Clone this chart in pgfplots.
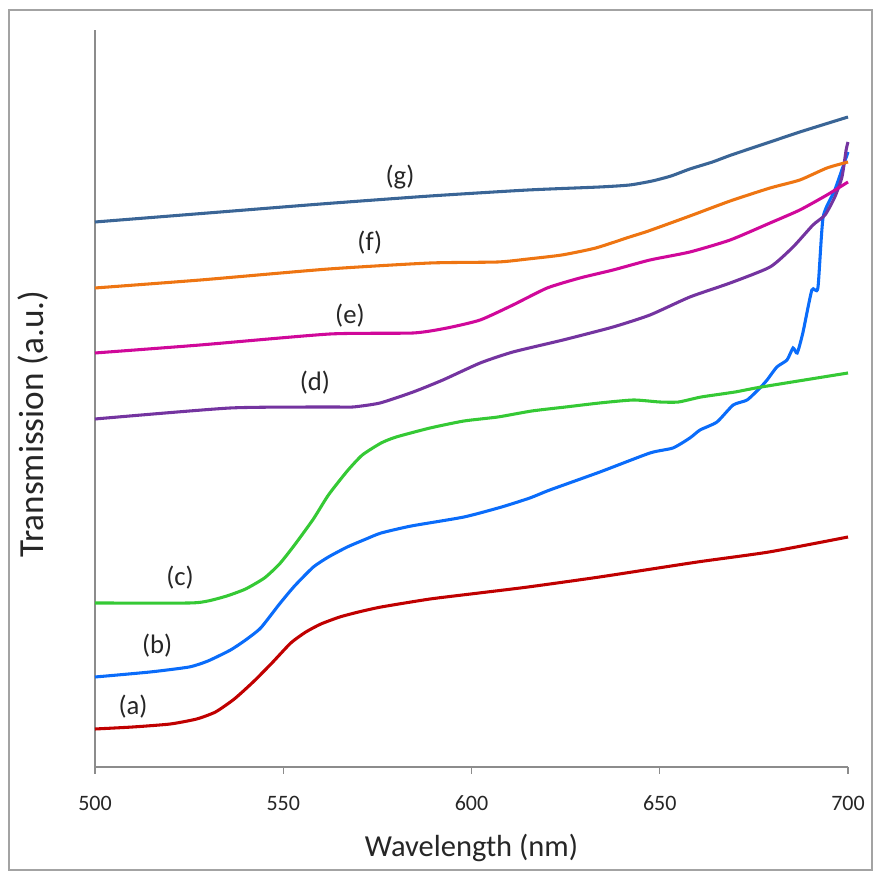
\documentclass[border=0pt]{standalone}
\usepackage{pgfplots}
\pgfplotsset{compat=1.18}
\usepackage{fontspec}
\setmainfont{Carlito}
\definecolor{cg}{HTML}{3A6596}
\definecolor{cf}{HTML}{EE7512}
\definecolor{ce}{HTML}{D0089A}
\definecolor{cd}{HTML}{7434A0}
\definecolor{cc}{HTML}{35C935}
\definecolor{cb}{HTML}{0A6CFA}
\definecolor{ca}{HTML}{C00000}
\definecolor{axgray}{HTML}{8C8C8C}
\begin{document}
\begin{tikzpicture}
\useasboundingbox (0pt,0pt) rectangle (660.75pt,657.75pt);
\draw[axgray!80,line width=1.2pt] (6.75pt,5.25pt) rectangle (654pt,650.25pt);
\begin{axis}[
  at={(71.25pt,82.5pt)}, anchor=south west,
  scale only axis, width=564.75pt, height=552.75pt,
  xmin=500, xmax=700, ymin=0, ymax=737,
  axis x line=bottom, axis y line=left,
  axis line style={-, axgray, line width=0.9pt},
  xtick={500,550,600,650,700}, ytick=\empty,
  tick align=outside, major tick length=5.25pt,
  tick style={axgray, line width=0.9pt},
  /pgf/number format/assume math mode=true,
  /pgf/number format/1000 sep={},
  xticklabel style={font=\fontsize{16.5}{18}\selectfont, text=black!85, anchor=center, yshift=-21.75pt},
  clip=false,
  every axis plot/.append style={line width=2.3pt, smooth, tension=0.35},
]
% (a)
\addplot[ca] coordinates {(500,38) (510,40) (520,43) (527,48) (532,55) (537,68) (542,85) (547,104) (552,124) (556,135) (560,143) (565,150) (570,155) (576,160) (589,168) (602,174) (615,180) (634,190) (660,205) (679,215) (700,230)};
% (b)
\addplot[cb] coordinates {(500,90) (514.6,95) (525,100) (530,106) (536,117) (540,127) (544,139) (549,163) (553,181) (558,200) (562,210) (567,220) (572,228) (576,234) (584,241) (598,250) (608,260) (615.5,269) (620.8,277) (634.1,295) (647.4,314) (653.5,319) (658,329) (660.7,337) (665.2,345) (669.5,362) (673.2,367) (676.6,379) (678.5,387) (681.1,400) (683.8,407) (685.4,419) (686.5,414) (688,434) (690.4,477) (692,479) (693.4,550) (696.5,577) (700,615)};
% (c)
\addplot[cc] coordinates {(500,164) (525,164) (530,166) (535,171) (540,178) (545,189) (549,203) (553,222) (558,248) (562,272) (567,296) (571,312) (576,324) (580,330) (589,339) (598,346) (607,350) (616,356) (625,360) (634,364) (643,367) (650,365) (655,365) (661,370) (670,375) (677,380) (700,394)};
% (d)
\addplot[cd] coordinates {(500,348) (535.9,359) (562.4,360) (568.5,360) (575.7,364) (584.5,375) (592.4,387) (602.3,404) (611,415) (624.3,427) (637.6,440) (647.4,452) (658,470) (668.7,484) (679.3,500) (685.4,520) (690.7,542) (693.9,552) (696.5,570) (698.4,590) (699.5,617) (700,625)};
% (e)
\addplot[ce] coordinates {(500,414) (527.9,422) (562.4,433) (584.5,434) (593.5,439) (602.3,447) (611,462) (620.1,479) (628.8,489) (637.6,497) (647.4,507) (658,515) (668.7,527) (679.3,544) (687.2,557) (694.4,572) (700,585)};
% (f)
\addplot[cf] coordinates {(500,479) (528,487) (562,498) (589,504) (607,505) (615,508) (624,512) (633,519) (642,530) (647,536) (658,551) (668.7,566) (679.3,579) (687.2,587) (694.4,599) (700,605)};
% (g)
\addplot[cg] coordinates {(500,545) (530,554) (560,563) (589,571) (615,577) (634,580) (642,582) (648,586) (653,591) (658,598) (664,605) (669,612) (679.3,625) (687.2,635) (700,650)};
\begin{scope}[font=\fontsize{20}{22}\selectfont, text=black!85]
\node at (axis cs:581,590) {(g)};
\node at (axis cs:573,524) {(f)};
\node at (axis cs:567.7,451) {(e)};
\node at (axis cs:558.4,384) {(d)};
\node at (axis cs:522.6,189) {(c)};
\node at (axis cs:516.5,121) {(b)};
\node at (axis cs:510.1,60) {(a)};
\end{scope}
\node[font=\fontsize{22.9}{26}\selectfont, text=black!85] at ([yshift=-60.75pt]axis description cs:0.5,0) {Wavelength (nm)};
\node[font=\fontsize{26.4}{30}\selectfont, text=black!85, rotate=90] at ([xshift=-46.5pt]axis description cs:0,0.465) {Transmission (a.u.)};
\end{axis}
\end{tikzpicture}
\end{document}
